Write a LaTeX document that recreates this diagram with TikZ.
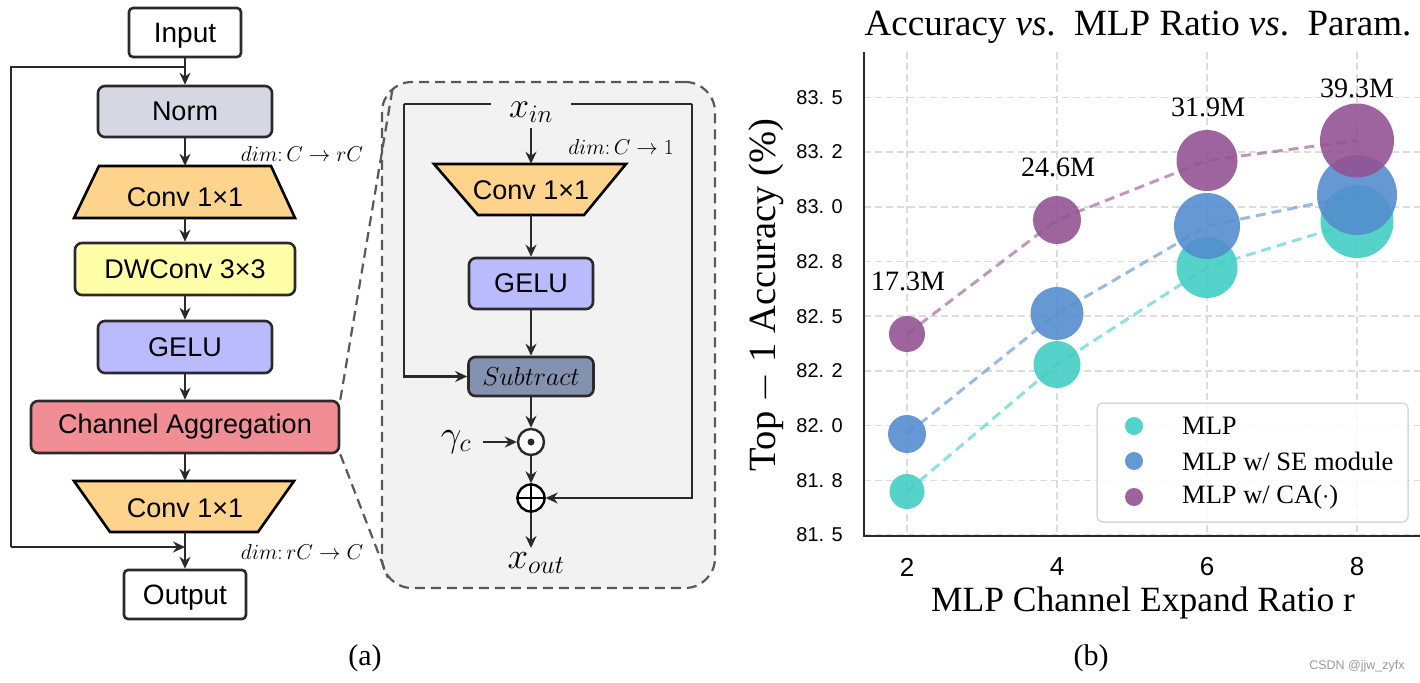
\RequirePackage{fix-cm}
\documentclass[tikz,border=0pt]{standalone}
\usepackage{fontspec}
\setmainfont{Liberation Serif}
\newfontfamily\arialf{Liberation Sans}
\usetikzlibrary{arrows.meta}
\definecolor{normc}{HTML}{D5D8E2}
\definecolor{convc}{HTML}{FED48C}
\definecolor{dwc}{HTML}{FFFFA8}
\definecolor{geluc}{HTML}{BABAFE}
\definecolor{cac}{HTML}{F08D95}
\definecolor{subc}{HTML}{8491AF}
\definecolor{panelc}{HTML}{F2F2F2}
\definecolor{darkc}{HTML}{2A2A2A}
\definecolor{tealc}{HTML}{42CEC4}
\definecolor{bluec}{HTML}{558ECE}
\definecolor{purpc}{HTML}{935393}
\definecolor{gridc}{HTML}{DCDCDC}
\newcommand\fsz[1]{\fontsize{#1}{#1}\selectfont}
\begin{document}
\begin{tikzpicture}[x=1pt,y=-1pt]
\useasboundingbox (0,0) rectangle (1420,682);
\tikzset{
  blk/.style={draw=darkc, line width=2.6pt, rounded corners=7pt, font=\arialf\fsz{27}, inner sep=0pt},
  txt/.style={font=\arialf\fsz{27}, inner sep=0pt},
  trapz/.style={draw=black, line width=2.6pt, fill=convc, line join=miter},
  arr/.style={draw=darkc, line width=2.4pt, -{Stealth[length=12pt,width=11pt]}},
  ln/.style={draw=darkc, line width=2.4pt},
  dimf/.style={font=\fsz{21.5}, inner sep=0pt},
  mth/.style={font=\fsz{36}, inner sep=0pt},
  zoomln/.style={draw=black!65, line width=2.2pt, dash pattern=on 10pt off 6pt},
  panelst/.style={draw=black!65, fill=panelc, line width=2.2pt, dash pattern=on 10pt off 6pt, rounded corners=30pt},
  grid/.style={draw=gridc, line width=1.6pt, dash pattern=on 7pt off 4pt},
  ytick/.style={font=\arialf\fsz{20}, anchor=east, inner sep=0pt},
  xtick/.style={font=\arialf\fsz{26}, inner sep=0pt},
  ser/.style={font=\fsz{28}, inner sep=0pt},
  dashser/.style={line width=3pt, dash pattern=on 10pt off 6pt, draw opacity=0.6},
}
% ---------------- (a) left column ----------------
\node[blk, fill=white, rounded corners=4pt, minimum width=112pt, minimum height=49pt, text depth=0pt, font=\arialf\fsz{28}] (inp) at (185,32.5) {Input};
\node[blk, fill=normc, minimum width=174pt, minimum height=51pt] (norm) at (185,111.5) {Norm};
\path[trapz] (99,166) -- (271,166) -- (295,218) -- (74,218) -- cycle;
\node[minimum width=221pt, minimum height=52pt, inner sep=0pt] (cv1) at (185,192) {};
\node[txt] (cv1t) at (185,197) {Conv 1×1};
\node[blk, fill=dwc, minimum width=220pt, minimum height=52pt] (dw) at (185,269) {DWConv 3×3};
\node[blk, fill=geluc, minimum width=174pt, minimum height=52pt] (gelu) at (185,347) {GELU};
\node[blk, fill=cac, minimum width=308pt, minimum height=52pt] (ca) at (185,427) {Channel Aggregation};
\path[trapz] (74,481) -- (294,481) -- (258,532) -- (110,532) -- cycle;
\node[minimum width=220pt, minimum height=51pt, inner sep=0pt] (cv2) at (185,506.5) {};
\node[txt] (cv2t) at (185,508) {Conv 1×1};
\node[blk, fill=white, rounded corners=4pt, minimum width=122pt, minimum height=49pt, text depth=0pt, font=\arialf\fsz{28}] (outp) at (185,594.5) {Output};

\draw[arr] (inp.south) -- (norm.north);
\draw[arr] (norm.south) -- (cv1.north);
\draw[arr] (cv1.south) -- (dw.north);
\draw[arr] (dw.south) -- (gelu.north);
\draw[arr] (gelu.south) -- (ca.north);
\draw[arr] (ca.south) -- (cv2.north);
\draw[arr] (cv2.south) -- (outp.north);

\coordinate (s0) at (185,67);
\coordinate (s1) at (11,67);
\coordinate (s2) at (11,547);
\coordinate (s3) at (185,547);
\draw[ln] (s0) -- (s1) -- (s2);
\draw[arr] (s2) -- (s3);

\node[dimf] (d1) at (302,154) {$dim{:}\,C\rightarrow rC$};
\node[dimf] (d2) at (302,552) {$dim{:}\,rC\rightarrow C$};

% ---------------- zoom panel ----------------
\node[panelst, minimum width=333pt, minimum height=506pt] (panel) at (548.5,335) {};
\coordinate (z1) at (393,86);
\coordinate (z2) at (388,578);
\draw[zoomln] (ca.north east) -- (z1);
\draw[zoomln] (ca.south east) -- (z2);

\node[mth, inner xsep=18pt, inner ysep=5pt] (xin) at (531,112.5) {$x_{in}$};
\path[trapz] (434,164) -- (626,164) -- (584,215) -- (478,215) -- cycle;
\node[minimum width=192pt, minimum height=51pt, inner sep=0pt] (c2) at (531,189.5) {};
\node[txt] (c2t) at (531,190) {Conv 1×1};
\node[dimf] (d3) at (621,147) {$dim{:}\,C\rightarrow 1$};
\node[blk, fill=geluc, minimum width=124pt, minimum height=51pt] (g2) at (531,283.5) {GELU};
\node[blk, fill=subc, minimum width=125pt, minimum height=39pt, font=\fsz{26}] (sub) at (531,376.5) {$Subtract$};
\node[circle, draw=darkc, fill=white, line width=2.4pt, minimum size=26pt, inner sep=0pt] (od) at (531,442) {};
\fill[darkc] (od.center) circle (3.5);
\node[circle, draw=black, fill=white, line width=2.4pt, minimum size=27pt, inner sep=0pt] (op) at (531,498) {};
\draw[black, line width=2.4pt] (op.north) -- (op.south) (op.west) -- (op.east);
\node[mth, font=\fsz{37}, inner xsep=2pt] (gam) at (456,442) {$\gamma_c$};
\node[mth, font=\fsz{37}, inner ysep=4pt] (xout) at (536,563) {$x_{out}$};

\coordinate (tl) at (404,104);
\coordinate (tr) at (692,104);
\draw[ln] (xin.west |- tl) -- (tl);
\draw[arr] (tl) |- (sub.west);
\draw[ln] (xin.east |- tr) -- (tr);
\draw[arr] (tr) |- (op.east);
\draw[arr] (xin.south -| c2) -- (c2.north);
\draw[arr] (c2.south) -- (g2.north);
\draw[arr] (g2.south) -- (sub.north);
\draw[arr] (sub.south) -- (od.north);
\draw[arr] ([xshift=10pt]gam.east) -- (od.west);
\draw[arr] (od.south) -- (op.north);
\draw[arr] (op.south) -- (op.south |- xout.north);

\node[font=\fsz{30}] (la) at (365,658) {(a)};

% ---------------- (b) chart ----------------
\node[font=\fsz{37}, inner sep=0pt] (title) at (1138,27) {Accuracy \textit{vs}.\ \ MLP Ratio \textit{vs}.\ \ Param.};

\foreach \x in {907,1057,1207,1357} \draw[grid] (\x,52) -- (\x,535);
\foreach \y/\l in {535/81. 5, 480.3/81. 8, 425.6/82. 0, 370.9/82. 2, 316.2/82. 5, 261.5/82. 8, 206.8/83. 0, 152.1/83. 2, 97.4/83. 5}{
  \draw[grid] (864,\y) -- (1420,\y);
  \node[ytick] at (843,\y) {\l};
}
\foreach \x/\l in {907/2, 1057/4, 1207/6, 1357/8} \node[xtick] at (\x,567) {\l};
\draw[darkc, line width=2.5pt] (864,52) -- (864,536) -- (1420,536);

% teal series
\foreach \x/\y/\r in {907/491.5/17.5, 1057/364.5/23.5, 1207/267.5/30.5, 1357/221.5/36.5}
  \fill[tealc, fill opacity=0.9] (\x,\y) circle (\r);
\draw[dashser, tealc] (907,491.5) -- (1057,364.5) -- (1207,267.5) -- (1357,221.5);
% blue series
\foreach \x/\y/\r in {907/434/19, 1057/313.5/26.5, 1207/226/33, 1357/195/40}
  \fill[bluec, fill opacity=0.9] (\x,\y) circle (\r);
\draw[dashser, bluec] (907,434) -- (1057,313.5) -- (1207,226) -- (1357,195);
% purple series
\foreach \x/\y/\r in {907/334/18, 1057/220/24, 1207/160.5/30.5, 1357/140.5/37}
  \fill[purpc, fill opacity=0.9] (\x,\y) circle (\r);
\draw[dashser, purpc] (907,334) -- (1057,220) -- (1207,160.5) -- (1357,140.5);

\node[ser] (p1) at (908,281) {17.3M};
\node[ser] (p2) at (1058,167) {24.6M};
\node[ser] (p3) at (1208,107) {31.9M};
\node[ser] (p4) at (1357,88) {39.3M};

% legend
\draw[draw=black!15, fill=white, fill opacity=0.85, line width=1.5pt, rounded corners=6pt] (1097,403) rectangle (1408,522);
\fill[tealc, fill opacity=0.9] (1134,426) circle (9);
\fill[bluec, fill opacity=0.9] (1134,461) circle (9);
\fill[purpc, fill opacity=0.9] (1134,497) circle (9);
\node[ser, font=\fsz{26.5}, anchor=west] (l1) at (1182,426) {MLP};
\node[ser, font=\fsz{26.5}, anchor=west] (l2) at (1182,461) {MLP w/ SE module};
\node[ser, font=\fsz{26.5}, anchor=west] (l3) at (1182,497) {MLP w/ CA($\cdot$)};

\node[rotate=90, font=\fsz{38.5}, inner sep=0pt] (ylab) at (766,295) {Top $-$ 1 Accuracy (\%)};
\node[font=\fsz{35.5}, inner sep=0pt] (xlab) at (1143,603) {MLP Channel Expand Ratio r};
\node[font=\fsz{30}] (lb) at (1091,658) {(b)};
\node[font=\arialf\fsz{12.5}, text=black!40] (wm) at (1357,666) {CSDN @jjw\_zyfx};
\end{tikzpicture}
\end{document}
